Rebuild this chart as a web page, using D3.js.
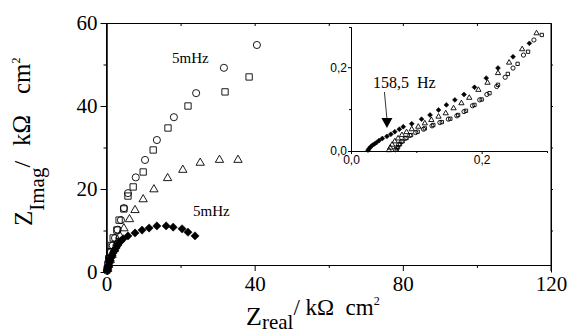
<!DOCTYPE html>
<html>
<head>
<meta charset="utf-8">
<script src="https://cdn.jsdelivr.net/npm/d3@7"></script>
<style>
  body { margin: 0; background: #fff; }
  text { fill: #000; }
  .serif { font-family: "Liberation Serif", "Times New Roman", serif; }
  .sans { font-family: "Liberation Sans", Arial, sans-serif; }
</style>
</head>
<body>
<script>
// main plot series [Zreal, Zimag] in kOhm cm2
var circles = [[40.6,54.7],[31.7,49.2],[24.2,43.1],[18.2,37.3],[13.6,31.8],[10.4,27.0],[7.9,22.8],[5.8,19.0],[4.7,15.4],[3.9,12.5],[3.0,10.2],[2.3,8.2],[1.7,6.4],[1.2,4.8],[0.8,3.3],[0.5,2.0],[0.3,0.9],[0.15,0.3]];
var squares = [[38.5,47.0],[32.0,43.4],[22.0,40.0],[16.6,34.7],[12.6,29.4],[9.9,24.1],[7.2,20.5],[5.8,18.3],[4.7,15.2],[3.4,12.5],[2.8,10.1],[1.8,8.2],[1.3,6.4],[0.9,4.8],[0.6,3.2],[0.4,1.9],[0.2,0.8]];
var triangles = [[35.5,27.0],[30.5,27.0],[25.3,26.3],[20.6,24.6],[16.5,22.6],[12.8,19.9],[9.9,17.5],[7.7,14.9],[6.2,12.7],[4.7,10.5],[3.6,8.7],[2.8,7.0],[2.1,5.5],[1.5,4.1],[1.0,2.9],[0.6,1.7],[0.3,0.7]];
var diamonds = [[23.9,8.7],[22.0,9.6],[20.4,10.4],[18.0,10.8],[16.1,11.1],[13.6,11.1],[11.5,10.6],[9.6,10.1],[7.7,9.4],[5.8,8.7],[4.5,8.0],[3.9,7.5],[3.4,7.0],[3.0,6.4],[2.6,5.8],[2.2,5.2],[1.8,4.6],[1.5,4.0],[1.2,3.4],[1.0,2.8],[0.8,2.2],[0.6,1.6],[0.4,1.0],[0.3,0.6],[0.25,0.3]];

// inset series (high frequency end)
var inDiamonds = [[0.026,0.002],[0.028,0.006],[0.030,0.010],[0.033,0.014],[0.036,0.017],[0.039,0.020],[0.043,0.025],[0.048,0.030],[0.055,0.035],[0.061,0.040],[0.067,0.046],[0.074,0.052],[0.080,0.058],[0.093,0.065],[0.108,0.076],[0.121,0.086],[0.134,0.098],[0.146,0.110],[0.159,0.122],[0.173,0.135],[0.189,0.152],[0.207,0.174],[0.225,0.198],[0.248,0.225],[0.273,0.257]];
var inTriangles = [[0.058,0.002],[0.060,0.008],[0.063,0.015],[0.067,0.023],[0.072,0.030],[0.078,0.038],[0.085,0.045],[0.093,0.052],[0.103,0.058],[0.113,0.066],[0.123,0.074],[0.134,0.082],[0.145,0.090],[0.157,0.102],[0.169,0.114],[0.181,0.127],[0.195,0.146],[0.209,0.163],[0.225,0.186],[0.242,0.211],[0.262,0.243],[0.284,0.281]];
var inCircles = [[0.068,0.003],[0.070,0.008],[0.073,0.015],[0.077,0.022],[0.083,0.030],[0.090,0.037],[0.099,0.044],[0.111,0.052],[0.124,0.060],[0.136,0.068],[0.149,0.076],[0.162,0.084],[0.173,0.094],[0.186,0.108],[0.197,0.122],[0.208,0.135],[0.223,0.154],[0.236,0.176],[0.248,0.198],[0.264,0.229],[0.280,0.265]];
var inSquares = [[0.070,0.003],[0.072,0.009],[0.075,0.016],[0.079,0.023],[0.085,0.031],[0.092,0.038],[0.102,0.046],[0.113,0.054],[0.126,0.062],[0.139,0.069],[0.152,0.077],[0.164,0.086],[0.176,0.096],[0.189,0.110],[0.200,0.123],[0.212,0.138],[0.225,0.158],[0.240,0.184],[0.255,0.208],[0.271,0.237],[0.292,0.277]];

var xTicks = [0, 40, 80, 120];
var yTicks = [0, 20, 40, 60];
var inTicks = [0, 0.2];

//size of the page
var width = 571, height = 335;

//scales for main plot
var x = d3.scaleLinear().domain([0, 120]).range([106.5, 551]);
var y = d3.scaleLinear().domain([0, 60]).range([272, 23]);
//bottom axis line sits a few px above y=0 in the original
var xAxisY = 265;

//scales for inset
var ix = d3.scaleLinear().domain([0, 0.3]).range([351, 547]);
var iy = d3.scaleLinear().domain([0, 0.296]).range([151, 27]);

var svg = d3.select("body").append("svg")
    .attr("width", width)
    .attr("height", height);

//axes of main plot
svg.append("g")
    .attr("transform", "translate(0," + xAxisY + ")")
    .call(d3.axisBottom(x).tickValues(xTicks).tickSize(6).tickSizeOuter(0).tickPadding(5));
svg.append("g")
    .attr("transform", "translate(0," + xAxisY + ")")
    .call(d3.axisBottom(x).tickValues([20, 60, 100]).tickSize(3).tickFormat(""));
svg.append("g")
    .attr("transform", "translate(" + x(0) + ",0)")
    .call(d3.axisLeft(y).tickValues(yTicks).tickSize(6).tickSizeOuter(0).tickPadding(3));
svg.append("g")
    .attr("transform", "translate(" + x(0) + ",0)")
    .call(d3.axisLeft(y).tickValues([10, 30, 50]).tickSize(3).tickFormat(""));
//top and right frame
svg.append("g")
    .attr("transform", "translate(0," + y(60) + ")")
    .call(d3.axisBottom(x).tickValues([20, 40, 60, 80, 100]).tickSize(3).tickSizeOuter(0).tickFormat(""));
svg.append("g")
    .attr("transform", "translate(" + x(120) + ",0)")
    .call(d3.axisRight(y).tickValues([10, 20, 30, 40, 50]).tickSize(2).tickSizeOuter(0).tickFormat(""));
//close frame corners
svg.append("line")
    .attr("x1", x(0)).attr("x2", x(0))
    .attr("y1", y(60)).attr("y2", y(0))
    .attr("stroke", "#000");
svg.append("line")
    .attr("x1", x(120)).attr("x2", x(120))
    .attr("y1", y(60)).attr("y2", xAxisY + 6)
    .attr("stroke", "#000");

svg.selectAll(".domain").attr("stroke", "#000");
svg.selectAll(".tick line").attr("stroke", "#000");
svg.selectAll(".tick text")
    .attr("class", "serif")
    .style("font-size", "21px")
    .attr("font-family", null);

//inset axes
var ia = svg.append("g").attr("class", "inset");
ia.append("g")
    .attr("transform", "translate(0," + iy(0) + ")")
    .call(d3.axisBottom(ix).tickValues(inTicks).tickSize(3).tickSizeOuter(0).tickPadding(1).tickFormat(d3.format(".1f")));
ia.append("g")
    .attr("transform", "translate(0," + iy(0) + ")")
    .call(d3.axisBottom(ix).tickValues([0.1]).tickSize(2).tickFormat(""));
ia.append("g")
    .attr("transform", "translate(" + ix(0) + ",0)")
    .call(d3.axisLeft(iy).tickValues(inTicks).tickSize(3).tickSizeOuter(0).tickPadding(1).tickFormat(d3.format(".1f")));
ia.append("g")
    .attr("transform", "translate(" + ix(0) + ",0)")
    .call(d3.axisLeft(iy).tickValues([0.1]).tickSize(2).tickFormat(""));
ia.selectAll(".domain, .tick line").attr("stroke", "#000");
ia.selectAll(".tick text")
    .attr("class", "sans")
    .attr("font-family", null)
    .style("font-size", "12px")
    .text(function () { return this.textContent.replace(".", ","); });

//marker drawing helper
function drawMarks(data, sx, sy, type, size, filled, rot) {
    svg.append("g").selectAll("path")
        .data(data)
        .enter().append("path")
        .attr("d", d3.symbol().type(type).size(size))
        .attr("transform", function (d) {
            return "translate(" + sx(d[0]) + "," + sy(d[1]) + ")" + (rot ? " rotate(45)" : "");
        })
        .attr("fill", filled ? "#000" : "#fff")
        .attr("fill-opacity", filled ? 1 : 0)
        .attr("stroke", "#000")
        .attr("stroke-width", filled ? 0.5 : 0.9);
}

//main markers
drawMarks(diamonds, x, y, d3.symbolSquare, 34, true, true);
drawMarks(triangles, x, y, d3.symbolTriangle, 30, false);
drawMarks(squares, x, y, d3.symbolSquare, 40, false);
drawMarks(circles, x, y, d3.symbolCircle, 40, false);

//inset markers
drawMarks(inDiamonds, ix, iy, d3.symbolSquare, 12, true, true);
drawMarks(inTriangles, ix, iy, d3.symbolTriangle, 12, false);
drawMarks(inCircles, ix, iy, d3.symbolCircle, 14, false);
drawMarks(inSquares, ix, iy, d3.symbolSquare, 11, false);

//annotations
svg.append("text").attr("class", "serif")
    .attr("x", 172).attr("y", 63)
    .style("font-size", "15px").text("5mHz");
svg.append("text").attr("class", "serif")
    .attr("x", 193).attr("y", 216)
    .style("font-size", "15px").text("5mHz");
svg.append("text").attr("class", "serif")
    .attr("x", 373).attr("y", 88)
    .style("font-size", "16px").style("white-space", "pre")
    .text("158,5  Hz");

//arrow pointing to 158,5 Hz point
var tip = [0.055, 0.055];
svg.append("line")
    .attr("x1", ix(tip[0]) - 2.5).attr("y1", 92)
    .attr("x2", ix(tip[0])).attr("y2", iy(tip[1]) - 9)
    .attr("stroke", "#000").attr("stroke-width", 0.8);
svg.append("path")
    .attr("d", "M" + ix(tip[0]) + "," + iy(tip[1]) +
        " l-5.5,-10 l11,0 Z")
    .attr("fill", "#000");

//x axis title
var xt = svg.append("text").attr("class", "serif")
    .attr("x", 246).attr("y", 325)
    .style("font-size", "26px");
xt.append("tspan").text("Z");
xt.append("tspan").attr("dy", 4).style("font-size", "21px").text("real");
xt.append("tspan").attr("dy", -14).style("font-size", "23px").style("white-space", "pre").text("/ kΩ  cm");
xt.append("tspan").attr("dy", -10).style("font-size", "12px").text("2");

//y axis title (rotated, spread out like the original)
var yt = svg.append("text").attr("class", "serif")
    .attr("transform", "translate(32,226) rotate(-90)")
    .style("font-size", "25px");
yt.append("tspan").text("Z");
yt.append("tspan").attr("dy", 12).style("font-size", "21px").text("Imag");
yt.append("tspan").attr("dy", -14).style("font-size", "24px").text("/");
yt.append("tspan").attr("x", 80).style("font-size", "25px").text("kΩ");
yt.append("tspan").attr("x", 132).style("font-size", "25px").text("cm");
yt.append("tspan").attr("dy", -10).style("font-size", "12px").text("2");
</script>
</body>
</html>
